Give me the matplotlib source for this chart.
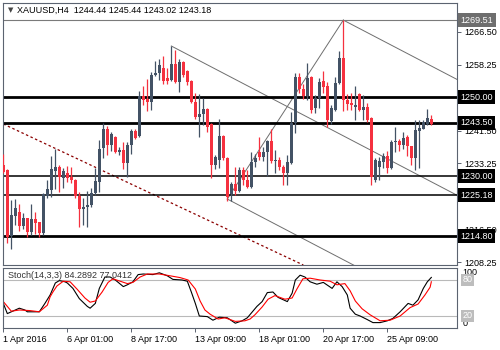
import numpy as np
import matplotlib
matplotlib.use('Agg')
import matplotlib.pyplot as plt
from matplotlib.transforms import blended_transform_factory

# XAUUSD H4 candles, 1 Apr - 26 Apr 2016
opens = [1232.8, 1231.6, 1214.8, 1219.9, 1220.9, 1217.4, 1219.4, 1215.9, 1219.2, 1218.4,
         1215.6, 1225.0, 1226.5, 1231.3, 1232.3, 1229.5, 1230.8, 1229.8, 1229.0, 1225.0,
         1221.7, 1222.2, 1222.7, 1225.7, 1228.5, 1237.1, 1241.9, 1237.9, 1239.9, 1236.1,
         1236.6, 1233.3, 1237.9, 1241.4, 1240.2, 1250.3, 1249.5, 1248.8, 1255.6, 1256.1,
         1257.4, 1254.9, 1254.3, 1258.4, 1253.8, 1258.9, 1256.6, 1254.1, 1248.8, 1245.0,
         1245.7, 1247.0, 1243.2, 1232.8, 1234.1, 1240.2, 1234.6, 1225.5, 1228.0, 1226.2,
         1231.6, 1229.0, 1227.3, 1233.6, 1236.1, 1234.9, 1236.1, 1238.9, 1233.8, 1234.1,
         1232.3, 1230.8, 1233.3, 1243.5, 1255.1, 1252.1, 1250.3, 1255.1, 1247.3, 1249.8,
         1254.1, 1252.8, 1244.0, 1246.8, 1253.6, 1259.9, 1249.3, 1248.5, 1247.5, 1250.8,
         1246.8, 1247.5, 1244.7, 1229.0, 1232.3, 1233.6, 1235.1, 1232.1, 1238.6, 1238.9,
         1237.9, 1239.9, 1237.6, 1234.6, 1241.4, 1241.9, 1243.2, 1244.44]
highs = [1235.6, 1231.8, 1224.0, 1224.2, 1223.0, 1220.7, 1219.4, 1223.0, 1220.9, 1218.4,
         1225.7, 1229.0, 1235.1, 1236.9, 1232.8, 1232.1, 1232.6, 1232.3, 1229.3, 1226.0,
         1224.5, 1226.2, 1227.0, 1232.1, 1239.2, 1243.5, 1242.7, 1241.2, 1240.2, 1237.4,
         1238.6, 1238.6, 1241.9, 1241.9, 1251.6, 1252.8, 1254.6, 1256.4, 1259.2, 1259.7,
         1260.4, 1257.4, 1262.95, 1261.9, 1259.7, 1259.2, 1256.9, 1254.3, 1251.1, 1250.8,
         1249.8, 1247.3, 1243.5, 1235.4, 1244.5, 1240.4, 1234.9, 1228.5, 1232.3, 1232.3,
         1232.3, 1231.6, 1236.1, 1235.6, 1239.9, 1237.4, 1239.2, 1241.9, 1236.6, 1234.9,
         1232.8, 1235.4, 1246.2, 1256.1, 1256.1, 1253.3, 1258.7, 1255.4, 1250.5, 1254.9,
         1256.6, 1253.8, 1248.0, 1255.1, 1261.7, 1269.51, 1250.8, 1251.1, 1252.8, 1251.1,
         1250.5, 1248.5, 1245.0, 1234.6, 1234.9, 1235.9, 1236.4, 1239.2, 1242.4, 1239.4,
         1241.2, 1240.4, 1237.6, 1244.2, 1244.2, 1244.2, 1247.0, 1245.44]
lows = [1230.8, 1213.1, 1211.6, 1217.6, 1216.1, 1216.6, 1214.6, 1215.1, 1215.4, 1214.6,
        1215.1, 1224.5, 1224.7, 1226.7, 1226.0, 1227.0, 1228.5, 1228.3, 1224.5, 1217.1,
        1217.6, 1217.1, 1222.2, 1225.2, 1226.0, 1234.6, 1235.4, 1236.4, 1235.9, 1235.4,
        1231.8, 1229.8, 1235.6, 1239.4, 1239.9, 1248.0, 1246.5, 1246.7, 1255.4, 1254.3,
        1253.3, 1253.3, 1254.1, 1253.6, 1251.3, 1255.1, 1253.1, 1248.5, 1244.5, 1239.9,
        1243.0, 1241.2, 1229.5, 1231.8, 1232.1, 1234.1, 1223.7, 1223.7, 1225.2, 1226.0,
        1227.8, 1227.0, 1227.0, 1232.3, 1234.1, 1233.8, 1230.0, 1233.3, 1230.8, 1231.6,
        1227.8, 1227.8, 1233.1, 1240.9, 1251.1, 1249.5, 1249.3, 1246.0, 1246.0, 1247.3,
        1251.1, 1242.4, 1243.2, 1246.5, 1253.3, 1246.5, 1246.8, 1246.8, 1244.2, 1246.5,
        1244.2, 1243.7, 1227.8, 1228.5, 1229.0, 1232.1, 1230.8, 1231.8, 1236.1, 1236.4,
        1236.9, 1235.1, 1232.8, 1231.6, 1232.1, 1241.9, 1242.9, 1243.02]
closes = [1231.1, 1214.6, 1220.2, 1221.9, 1217.4, 1219.4, 1215.9, 1219.2, 1218.1, 1215.6,
          1225.5, 1226.7, 1231.8, 1232.3, 1229.8, 1231.3, 1229.5, 1229.0, 1225.0, 1221.7,
          1222.2, 1222.7, 1225.7, 1228.8, 1236.9, 1241.9, 1237.9, 1240.7, 1236.1, 1236.6,
          1233.3, 1237.9, 1241.4, 1239.7, 1250.3, 1249.3, 1248.8, 1255.6, 1256.1, 1258.1,
          1254.1, 1254.1, 1258.4, 1253.8, 1258.9, 1255.6, 1253.8, 1248.8, 1245.0, 1245.7,
          1247.0, 1242.4, 1232.8, 1234.9, 1240.2, 1234.6, 1224.7, 1228.0, 1226.2, 1231.6,
          1229.0, 1227.3, 1233.6, 1234.6, 1234.9, 1236.1, 1238.9, 1233.8, 1234.1, 1232.3,
          1230.8, 1233.6, 1243.5, 1255.1, 1252.1, 1250.3, 1254.9, 1246.7, 1249.8, 1253.8,
          1252.6, 1244.2, 1247.3, 1253.6, 1259.9, 1249.3, 1248.3, 1248.0, 1248.0, 1246.8,
          1247.5, 1244.2, 1229.8, 1234.1, 1233.8, 1235.1, 1232.1, 1238.6, 1238.9, 1237.9,
          1239.7, 1237.6, 1234.6, 1241.7, 1242.2, 1243.7, 1244.7, 1243.18]

# stochastic %K / %D (bar position, value)
k_bars = [0, 1, 2, 4, 5.4, 6, 7.5, 9, 10.4, 11.7, 13, 14, 15.4, 16, 17.4, 19, 21, 21.7, 23, 24,
          25.4, 26.7, 28, 30, 31, 32.4, 33.7, 35, 37.4, 39, 41, 42.4, 44.7, 46, 47, 48, 49, 51,
          52.4, 54, 56, 58, 59.7, 61, 63.4, 64.7, 66, 67.4, 68.7, 71, 72.2, 73, 74.2, 75.4, 76.7,
          78.4, 80, 82.2, 83.4, 84.7, 86, 86.7, 88, 89.2, 91, 92.4, 94.2, 96, 97.4, 99.2, 101.2,
          102.4, 103.7, 105, 106, 107]
k_vals = [41, 24, 27, 33, 30, 27, 27, 27, 41, 55, 75, 79, 77, 75, 66, 49, 36, 33, 41, 66,
          85, 85, 80, 69, 72, 77, 89, 90, 89, 92, 87, 81, 80, 78, 60, 41, 20, 19,
          13, 18, 17, 8, 12, 17, 36, 44, 59, 60, 51, 44, 58, 80, 88, 85, 77,
          73, 76, 66, 77, 69, 55, 33, 23, 20, 14, 9, 9, 12, 16, 27, 41,
          38, 47, 66, 77, 84.2892]
d_bars = [0, 2, 4, 6.7, 9, 11, 11.7, 12.4, 13.4, 15, 16.7, 18.4, 20.4, 21.7, 23, 24.7, 26.2, 27.4,
          29.2, 31, 32.4, 34.2, 36, 39, 41.7, 44.2, 46.2, 48, 49.2, 50.4, 51.7, 53.7, 55.4, 58,
          60.4, 61.7, 62.9, 64.7, 66.2, 67.9, 70.4, 72.2, 73.4, 74.9, 76.7, 79.2, 81.7, 83.4,
          85.4, 86.7, 88, 89.7, 91.7, 94.2, 96.7, 99.2, 101.7, 103.7, 105.4, 106.7, 107]
d_vals = [44, 28, 30, 29, 27, 38, 52, 60, 70, 78, 77, 65, 50, 43, 45, 60, 76, 82,
          78, 74, 76, 85, 90, 90, 87, 84, 80, 65, 45, 30, 23, 15, 17, 11,
          12, 15, 22, 35, 48, 54, 48, 50, 65, 82, 83, 80, 78, 72,
          74, 62, 45, 32, 22, 12, 13, 20, 34, 40, 55, 68, 77.0412]

# support / resistance levels
thick_levels = [1250.00, 1243.50, 1214.80]
thin_levels = [1230.00, 1225.18]
peak_level = 1269.51
price_ticks = [1266.50, 1258.25, 1241.50, 1233.25, 1216.50, 1208.25]

# drawn trend lines (bar, price)
gray_lines = [((42, 1262.95), (113.4, 1225.18)),
              ((56, 1224.2), (113.4, 1193.8)),
              ((56, 1224.2), (85, 1269.51)),
              ((85, 1269.51), (113.4, 1254.5))]
red_line = ((0, 1243.2), (75, 1207.5))

date_ticks = [0, 16, 32, 48, 64, 80, 96]
date_labels = ['1 Apr 2016', '6 Apr 01:00', '8 Apr 17:00', '13 Apr 09:00',
               '18 Apr 01:00', '20 Apr 17:00', '25 Apr 09:00']

BULL = '#435265'
BEAR = '#f5313f'
FRAME = '#5b6370'
FS = 6.5

plt.rcParams['font.family'] = ['Liberation Sans', 'DejaVu Sans']
W, H = 500, 350
fig = plt.figure(figsize=(5, 3.5), dpi=100)


def px_axes(x0, y0, x1, y1):
    return fig.add_axes([x0 / W, 1 - y1 / H, (x1 - x0) / W, (y1 - y0) / H])


ax = px_axes(3, 3, 457, 265)
sax = px_axes(3, 268, 457, 328)
xlim = (-0.08, 113.42)

# main panel
o = np.array(opens)
h = np.array(highs)
l = np.array(lows)
c = np.array(closes)
idx = np.arange(len(c))
cols = np.where(c >= o, BULL, BEAR)

for (x0, y0), (x1, y1) in gray_lines:
    ax.plot([x0, x1], [y0, y1], color='#6e6e6e', lw=0.7, zorder=1)
ax.plot([red_line[0][0], red_line[1][0]], [red_line[0][1], red_line[1][1]],
        color='#8b0000', lw=0.9, ls=(0, (2, 2)), zorder=1)
ax.axhline(peak_level, color='#7a7a7a', lw=0.8, zorder=1)
for v in thick_levels:
    ax.axhline(v, color='black', lw=2.0, zorder=2)
for v in thin_levels:
    ax.axhline(v, color='black', lw=1.1, zorder=2)

ax.vlines(idx, l, h, colors=cols, lw=0.9, zorder=3)
ax.bar(idx, np.maximum(np.abs(c - o), 0.2), bottom=np.minimum(o, c), width=0.8,
       color=cols, edgecolor='none', zorder=4)

ax.set_xlim(*xlim)
ax.set_ylim(1207.5, 1273.84)
ax.set_xticks([])
ax.yaxis.tick_right()
ax.set_yticks(price_ticks)
ax.set_yticklabels(['%.2f' % v for v in price_ticks])
ax.tick_params(axis='y', length=3, width=0.7, pad=2, labelsize=FS, color=FRAME)
for s in ax.spines.values():
    s.set_color(FRAME)
    s.set_linewidth(0.8)

tr = blended_transform_factory(ax.transAxes, ax.transData)
boxes = [(peak_level, '#6e6e6e')] + [(v, 'black') for v in thick_levels + thin_levels]
for v, bg in boxes:
    ax.text(1.008, v, '%.2f' % v, transform=tr, ha='left', va='center', color='white',
            fontsize=FS, clip_on=False, zorder=10,
            bbox=dict(boxstyle='square,pad=0.25', fc=bg, ec='none'))

fig.text(8 / W, 1 - 10 / H, '\u25bc', fontsize=5, color='#444444', va='center',
         family=['DejaVu Sans'])
fig.text(17 / W, 1 - 10 / H, 'XAUUSD,H4  %.2f %.2f %.2f %.2f' % (opens[-1], highs[-1], lows[-1], closes[-1]),
         fontsize=FS, va='center', color='black')

# stochastic panel
sax.axhline(80, color='#b9b9b9', lw=0.8)
sax.axhline(20, color='#b9b9b9', lw=0.8)
sax.plot(k_bars, k_vals, color='black', lw=0.8)
sax.plot(d_bars, d_vals, color='red', lw=0.8)
sax.set_xlim(*xlim)
sax.set_ylim(0, 100)
sax.set_yticks([])
sax.set_xticks(date_ticks)
sax.set_xticklabels(date_labels, ha='left')
sax.tick_params(axis='x', length=3, width=0.7, pad=2, labelsize=FS, color=FRAME)
for s in sax.spines.values():
    s.set_color(FRAME)
    s.set_linewidth(0.8)

sax.text(0.01, 0.87, 'Stoch(14,3,3) %.4f %.4f' % (k_vals[-1], d_vals[-1]),
         transform=sax.transAxes, fontsize=FS, color='#333333', va='center')
str_ = blended_transform_factory(sax.transAxes, sax.transData)
sax.text(1.012, 100, '100', transform=str_, fontsize=FS, va='top', clip_on=False)
sax.text(1.012, 0, '0', transform=str_, fontsize=FS, va='bottom', clip_on=False)
for v in (80, 20):
    sax.text(1.012, v, str(v), transform=str_, fontsize=FS, va='center', color='white',
             clip_on=False, bbox=dict(boxstyle='square,pad=0.15', fc='#bdbdbd', ec='none'))

fig.savefig('out.png', dpi=100, facecolor='white')
